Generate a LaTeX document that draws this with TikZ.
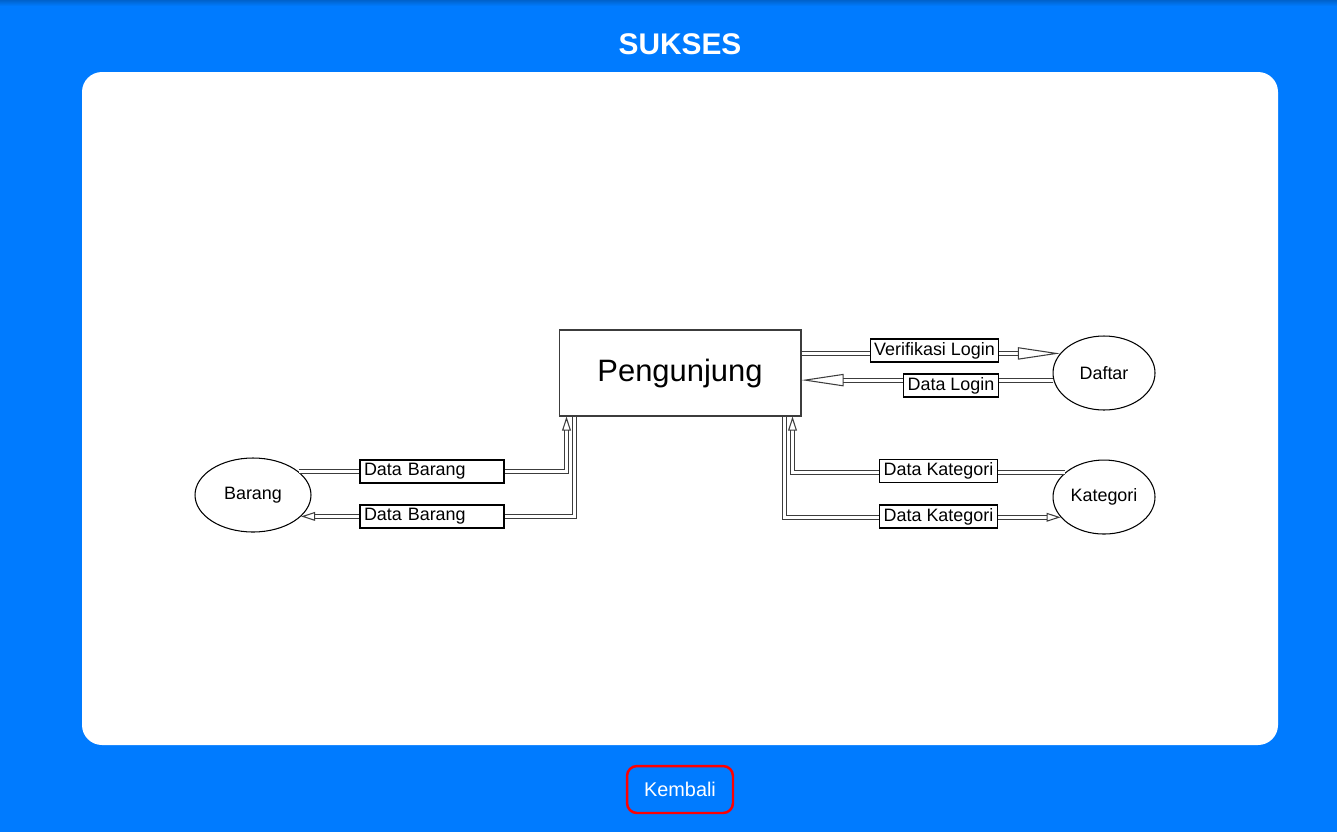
\documentclass[tikz,border=0pt]{standalone}
\usepackage{fontspec}
\setmainfont{Liberation Sans}
\usetikzlibrary{positioning,arrows.meta,shapes.geometric}
\definecolor{pageblue}{RGB}{0,123,255}
\definecolor{lineg}{RGB}{60,60,60}

\begin{document}
\begin{tikzpicture}
    [x=0.02cm, y=-0.02cm,
     proc/.style={rectangle,draw=lineg,fill=white,line width=0.6pt,minimum width=4.84cm,minimum height=1.72cm,font=\fontsize{17.6}{20}\selectfont},
     ent/.style={ellipse,draw=black,fill=white,line width=0.6pt,minimum width=2.04cm,minimum height=1.48cm,inner sep=0pt,font=\fontsize{10.2}{12}\selectfont},
     flowlbl/.style={rectangle,draw=black,fill=white,line width=0.6pt,inner xsep=0.08cm,inner ysep=0pt,minimum height=0.46cm,font=\fontsize{10.2}{12}\selectfont},
     flow/.style={draw=lineg,line width=0.55pt,double=white,double distance=1.7pt},
     longhead/.style={-{Triangle[open,length=24pt,width=7pt,line width=0.6pt 0 0]}},
     shorthead/.style={-{Triangle[open,length=8pt,width=5pt,line width=0.6pt 0 0]}}]

    % page
    \fill[pageblue] (0,0) rectangle (1337,832);
    \shade[top color=pageblue!80!black, bottom color=pageblue] (0,0) rectangle (1337,6);
    \fill[white, rounded corners=0.4cm] (82,72) rectangle (1278,745);
    \useasboundingbox (0,0) rectangle (1337,832);

    \node[text=white, font=\bfseries\fontsize{17}{20}\selectfont] (title) at (680,44) {SUKSES};

    \node[proc] (peng) at (680,373) {Pengunjung};
    \node[ent] (daftar) at (1104,373) {Daftar};
    \node[ent] (kat) [below=0.98cm of daftar] {Kategori};
    \node[ent, minimum width=2.32cm] (bar) at (253,495) {Barang};

    % flows
    \draw[flow,longhead] (peng.east |- daftar.156) -- (daftar.156);
    \draw[flow,longhead] (daftar.188) -- (peng.east |- daftar.188);
    \draw[flow,shorthead] (kat.148) -| ([xshift=-0.18cm]peng.south east);
    \draw[flow,shorthead] ([xshift=-0.34cm]peng.south east) |- (kat.205);
    \draw[flow,shorthead] (bar.27) -| ([xshift=0.16cm]peng.south west);
    \draw[flow,shorthead] ([xshift=0.32cm]peng.south west) |- (bar.-24);

    \node[flowlbl] (verif) at (934.5,350.5) {Verifikasi Login};
    \node[flowlbl] (login) at (951,385.5) {Data Login};
    \node[flowlbl] (katin) at (938.5,471) {Data Kategori};
    \node[flowlbl] (katout) at (938.5,516.5) {Data Kategori};
    \node[flowlbl, text width=2.72cm, align=left] (barin) at (432,471.5) {Data Barang};
    \node[flowlbl, text width=2.72cm, align=left] (barout) at (432,516.5) {Data Barang};

    \node[draw=red, line width=1.4pt, rounded corners=0.2cm, fill=pageblue, text=white,
          minimum width=2.12cm, minimum height=0.94cm, font=\fontsize{11.3}{13}\selectfont] (back) at (680,789.5) {Kembali};
  \end{tikzpicture}
\end{document}
